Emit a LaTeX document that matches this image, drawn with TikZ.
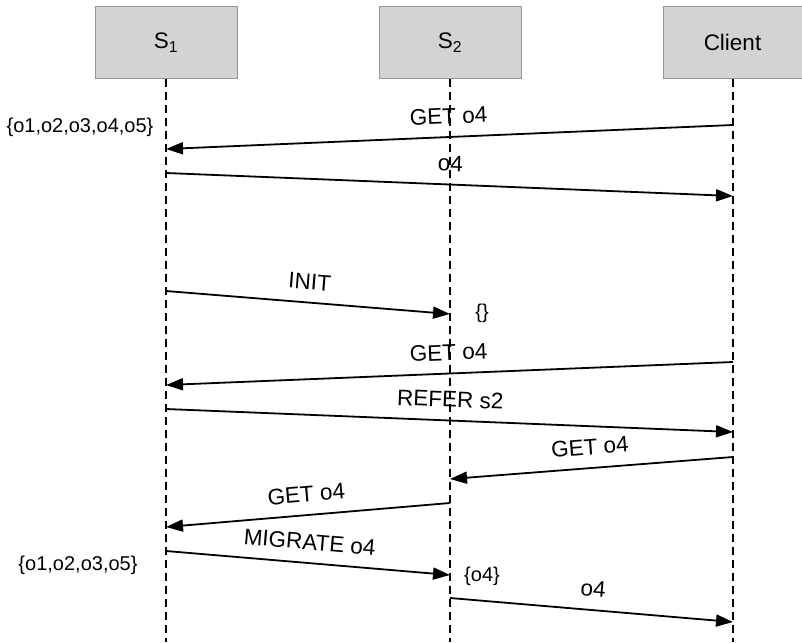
\documentclass[tikz,border=0pt]{standalone}
\usepackage{fontspec}
\setmainfont{Liberation Sans}
\usetikzlibrary{arrows.meta}
\definecolor{boxfill}{RGB}{211,211,211}
\definecolor{boxline}{RGB}{150,150,150}
\begin{document}
\begin{tikzpicture}[x=1pt,y=-1pt,
  actor/.style={draw=boxline, line width=1pt, fill=boxfill, minimum width=142pt, minimum height=71pt, inner sep=0pt, font=\fontsize{22.5}{26}\selectfont},
  life/.style={line width=2.4pt, dash pattern=on 8pt off 5pt},
  msg/.style={line width=1.8pt, -{Triangle[length=17pt,width=12pt]}},
  lbl/.style={midway, sloped, anchor=south, inner sep=0pt, outer ysep=13pt, font=\fontsize{22.5}{26}\selectfont},
  setlbl/.style={inner sep=0pt, font=\fontsize{20}{23}\selectfont}]
\useasboundingbox (0,0) rectangle (802,642);
% actors
\node[actor] (s1) at (166,42.5) {S\textsubscript{1}};
\node[actor] (s2) at (450,42.5) {S\textsubscript{2}};
\node[actor, minimum width=139pt] (cl) at (732.5,42.5) {Client};
% lifelines
\coordinate (s1e) at (166,642);
\coordinate (s2e) at (450,642);
\coordinate (cle) at (733,642);
\draw[life] (s1) -- (s1e);
\draw[life] (s2) -- (s2e);
\draw[life] (cl.south -| cle) -- (cle);
% message end points
\coordinate (c1) at (733,125);  \coordinate (a1) at (166,149);
\coordinate (a2) at (166,173);  \coordinate (c2) at (733,196);
\coordinate (a3) at (166,291);  \coordinate (b3) at (450,314);
\coordinate (c4) at (733,362);  \coordinate (a4) at (166,385);
\coordinate (a5) at (166,409);  \coordinate (c5) at (733,432);
\coordinate (c6) at (733,457);  \coordinate (b6) at (450,479);
\coordinate (b7) at (450,503);  \coordinate (a7) at (166,527);
\coordinate (a8) at (166,551);  \coordinate (b8) at (450,575);
\coordinate (b9) at (450,598);  \coordinate (c9) at (733,622);
% messages
\draw[msg] (c1) -- node[lbl] {GET o4} (a1);
\draw[msg] (a2) -- node[lbl] {o4} (c2);
\draw[msg] (a3) -- node[lbl] {INIT} (b3);
\draw[msg] (c4) -- node[lbl] {GET o4} (a4);
\draw[msg] (a5) -- node[lbl] {REFER s2} (c5);
\draw[msg] (c6) -- node[lbl] {GET o4} (b6);
\draw[msg] (b7) -- node[lbl] {GET o4} (a7);
\draw[msg] (a8) -- node[lbl] {MIGRATE o4} (b8);
\draw[msg] (b9) -- node[lbl] {o4} (c9);
% object sets
\node[setlbl] (set1) at (80,127) {\{o1,o2,o3,o4,o5\}};
\node[setlbl] (set2) at (482,313) {\{\}};
\node[setlbl] (set3) at (78,565) {\{o1,o2,o3,o5\}};
\node[setlbl] (set4) at (482,576) {\{o4\}};
\end{tikzpicture}
\end{document}
